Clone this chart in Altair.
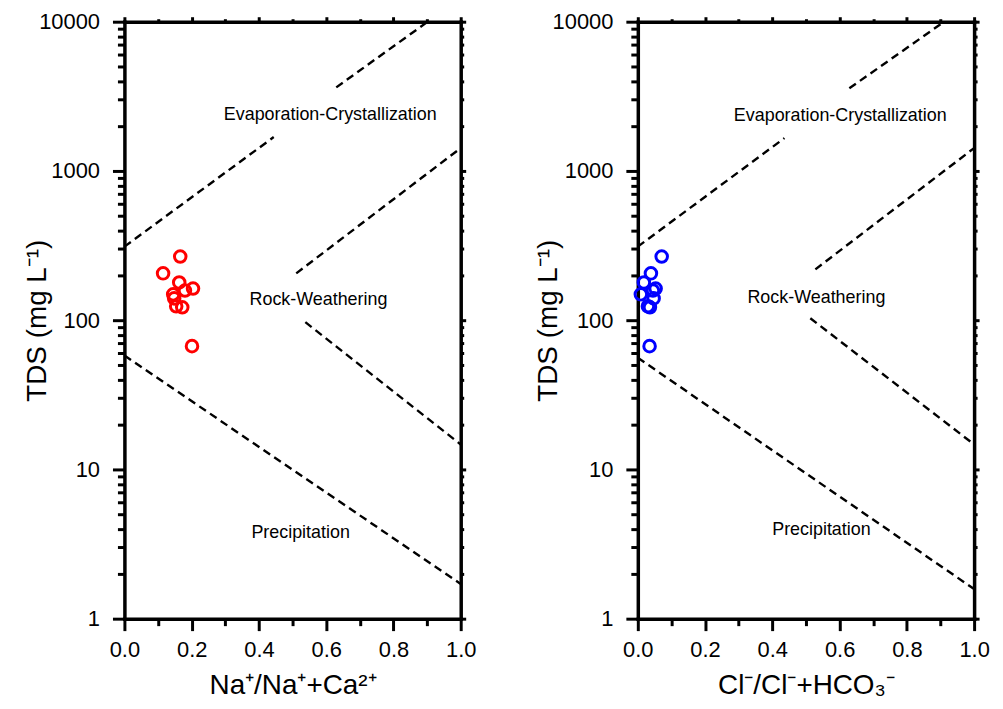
import altair as alt
import pandas as pd

# ---- sample data ----
tds_values = [267, 206, 179, 163, 158, 149, 140, 124, 122, 67]
na_ratio = [0.166, 0.115, 0.163, 0.204, 0.180, 0.145, 0.148, 0.154, 0.172, 0.201]
cl_ratio = [0.071, 0.039, 0.018, 0.053, 0.045, 0.009, 0.047, 0.030, 0.036, 0.035]

# ---- Gibbs boundary segments ----
boundary_names = ["evap_low", "evap_high", "rock_up", "rock_down", "precip"]
left_x1 = [0.0, 0.630, 0.511, 0.538, 0.0]
left_y1 = [311, 3631, 206, 97, 58]
left_x2 = [0.444, 0.902, 1.0, 1.0, 1.0]
left_y2 = [1686, 10000, 1423, 14.7, 1.71]
right_x1 = [0.0, 0.629, 0.528, 0.513, 0.0]
right_y1 = [311, 3577, 219, 103, 56]
right_x2 = [0.436, 0.911, 1.0, 1.0, 1.0]
right_y2 = [1660, 10000, 1423, 14.7, 1.58]

# ---- zone labels ----
zone_labels = ["Evaporation-Crystallization", "Rock-Weathering", "Precipitation"]
left_label_x = [0.612, 0.577, 0.524]
left_label_y = [2362, 136, 3.74]
right_label_x = [0.602, 0.531, 0.546]
right_label_y = [2326, 140, 3.92]

# ---- ticks ----
y_major = [1, 10, 100, 1000, 10000]
y_ticks = [1, 2, 3, 4, 5, 6, 7, 8, 9,
           10, 20, 30, 40, 50, 60, 70, 80, 90,
           100, 200, 300, 400, 500, 600, 700, 800, 900,
           1000, 2000, 3000, 4000, 5000, 6000, 7000, 8000, 9000, 10000]
x_major = [0.0, 0.2, 0.4, 0.6, 0.8, 1.0]
x_ticks = [0.0, 0.1, 0.2, 0.3, 0.4, 0.5, 0.6, 0.7, 0.8, 0.9, 1.0]

FONT = "Liberation Sans"
IS_MAJOR_X = "indexof([0,0.2,0.4,0.6,0.8,1], datum.value) >= 0"
IS_MAJOR_Y = "indexof([1,10,100,1000,10000], datum.value) >= 0"


def panel(ratio, color, x1, y1, x2, y2, lx, ly, xtitle, title_x):
    pts_df = pd.DataFrame({"ratio": ratio, "tds": tds_values})
    seg_df = pd.DataFrame({"name": boundary_names, "x1": x1, "y1": y1, "x2": x2, "y2": y2})
    lab_df = pd.DataFrame({"label": zone_labels, "lx": lx, "ly": ly})

    xs = alt.Scale(domain=[0, 1], nice=False, zero=False)
    ys = alt.Scale(type="log", domain=[1, 10000], nice=False)

    x_axis = alt.Axis(
        orient="bottom", values=x_ticks, format=".1f",
        labelExpr=f"{IS_MAJOR_X} ? datum.label : ''",
        tickSize={"condition": {"test": IS_MAJOR_X, "value": 12}, "value": 7},
        labelOverlap=False, labelFlush=False, grid=False, title=xtitle,
        labelPadding=9, titleY=67, titleBaseline="middle",
    )
    y_axis = alt.Axis(
        orient="left", values=y_ticks, format="d",
        labelExpr=f"{IS_MAJOR_Y} ? datum.label : ''",
        tickSize={"condition": {"test": IS_MAJOR_Y, "value": 12}, "value": 7},
        labelOverlap=False, labelFlush=False, grid=False, title="TDS (mg L⁻¹)",
        labelPadding=13, titleX=title_x, titleBaseline="middle",
    )
    x_axis_top = alt.Axis(
        orient="top", values=x_ticks, labels=False, title=None, grid=False,
        tickSize={"condition": {"test": IS_MAJOR_X, "value": 5}, "value": 3},
    )
    y_axis_right = alt.Axis(
        orient="right", values=y_ticks, labels=False, title=None, grid=False,
        tickSize={"condition": {"test": IS_MAJOR_Y, "value": 5}, "value": 3},
    )

    lines = alt.Chart(seg_df).mark_rule(
        strokeDash=[8, 5], strokeWidth=2.4, color="black"
    ).encode(
        x=alt.X("x1:Q", scale=xs, axis=None),
        y=alt.Y("y1:Q", scale=ys, axis=None),
        x2="x2:Q", y2="y2:Q",
    )
    texts = alt.Chart(lab_df).mark_text(
        fontSize=18, font=FONT, color="black"
    ).encode(
        x=alt.X("lx:Q", scale=xs, axis=None),
        y=alt.Y("ly:Q", scale=ys, axis=None),
        text="label:N",
    )
    pts = alt.Chart(pts_df).mark_point(
        shape="circle", filled=False, size=135, strokeWidth=3, color=color, opacity=1
    ).encode(
        x=alt.X("ratio:Q", scale=xs, axis=x_axis),
        y=alt.Y("tds:Q", scale=ys, axis=y_axis),
    )
    frame = alt.Chart(pts_df).mark_point(opacity=0).encode(
        x=alt.X("ratio:Q", scale=xs, axis=x_axis_top),
        y=alt.Y("tds:Q", scale=ys, axis=y_axis_right),
    )
    return alt.layer(lines, texts, pts, frame).resolve_axis(
        x="independent", y="independent"
    ).properties(width=338, height=600)


left = panel(na_ratio, "#ff0000", left_x1, left_y1, left_x2, left_y2,
             left_label_x, left_label_y, "Na⁺/Na⁺+Ca²⁺", -87)
right = panel(cl_ratio, "#0000ff", right_x1, right_y1, right_x2, right_y2,
              right_label_x, right_label_y, "Cl⁻/Cl⁻+HCO₃⁻", -90)

chart = alt.hconcat(left, right, spacing=58).properties(
    padding={"left": 16, "top": 1, "right": 5, "bottom": 5}
).configure_axis(
    labelFont=FONT, labelFontSize=22, labelColor="black",
    titleFont=FONT, titleFontSize=28, titleFontWeight="normal", titleColor="black",
    domainColor="black", domainWidth=3.5, domainCap="square",
    tickColor="black", tickWidth=3,
).configure_view(stroke=None).configure_text(font=FONT)

chart.save("out.html", embed_options={"renderer": "svg", "actions": False})
